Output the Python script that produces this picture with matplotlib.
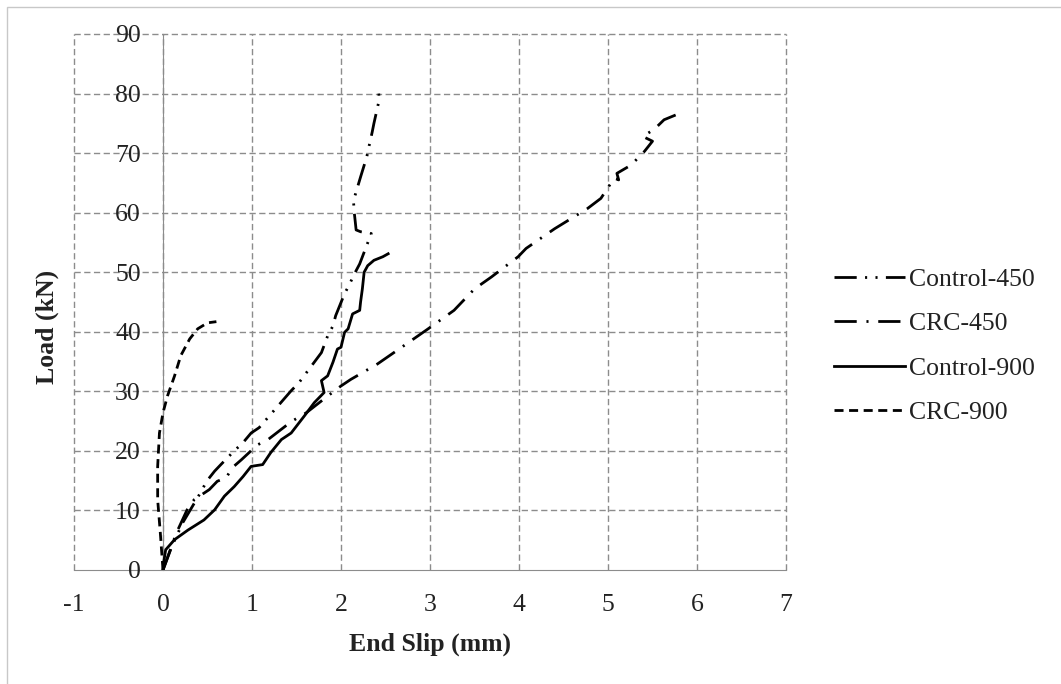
import numpy as np
import matplotlib
matplotlib.use('Agg')
import matplotlib.pyplot as plt
from matplotlib.patches import Rectangle

plt.rcParams['font.family'] = ['Liberation Serif', 'DejaVu Serif']
plt.rcParams['lines.scale_dashes'] = False

# load - slip data
ctrl450_x = [0, 0.1, 0.22, 0.43, 0.49, 0.58, 0.65, 0.8, 0.9, 0.99, 1.08, 1.44, 1.53, 1.78, 1.85, 1.91,
             1.94, 2.04, 2.09, 2.15, 2.21, 2.34, 2.22, 2.17, 2.15, 2.14, 2.18, 2.22, 2.29, 2.32, 2.35,
             2.37, 2.43, 2.42]
ctrl450_y = [0, 4, 7.9, 13.2, 14.9, 16.6, 17.7, 20, 21.4, 23, 23.9, 30.1, 31.5, 36.5, 39.3, 41,
             42.7, 46.4, 47.8, 49.7, 51.4, 56.5, 56.8, 57.1, 59.9, 62, 64, 66, 69.4, 71.5, 73.5,
             75, 79, 80.8]

crc450_x = [0, 0.15, 0.28, 0.35, 0.52, 0.61, 0.71, 0.78, 0.88, 1.06, 1.18, 1.44, 1.61, 1.85, 2.0,
            2.11, 2.41, 2.71, 2.97, 3.27, 3.5, 3.69, 3.99, 4.08, 4.4, 4.77, 4.92, 5.07, 5.12, 5.1,
            5.26, 5.41, 5.5, 5.39, 5.52, 5.63, 5.76]
crc450_y = [0, 6.2, 10.4, 11.8, 13.5, 14.9, 15.5, 17.2, 18.5, 21.0, 21.9, 24.9, 26.4, 29.2, 30.9,
            32.0, 34.6, 37.7, 40.4, 43.6, 47.2, 49.2, 52.6, 54.0, 57.3, 60.7, 62.4, 65.8, 65.5, 66.6,
            68.0, 70.3, 72.0, 72.8, 74.0, 75.6, 76.4]

ctrl900_x = [0, 0.01, 0.03, 0.13, 0.28, 0.46, 0.58, 0.69, 0.8, 0.9, 0.99, 1.12, 1.21, 1.33, 1.44,
             1.59, 1.7, 1.81, 1.78, 1.85, 1.91, 1.96, 2.0, 2.04, 2.08, 2.13, 2.21, 2.22, 2.24, 2.26,
             2.3, 2.37, 2.47, 2.53]
ctrl900_y = [0, 1.5, 3.4, 5.1, 6.7, 8.4, 10.1, 12.4, 14.0, 15.7, 17.4, 17.7, 19.7, 21.9, 23.0,
             25.9, 28.1, 29.8, 31.8, 32.6, 34.9, 37.1, 37.4, 39.9, 40.5, 43.0, 43.6, 45.0, 47.2, 50.0,
             51.1, 52.0, 52.6, 53.1]

crc900_x = [0, -0.03, -0.06, -0.06, -0.04, 0, 0.05, 0.13, 0.2, 0.3, 0.39, 0.5, 0.6]
crc900_y = [0, 6.2, 11.8, 17.4, 23, 26.4, 29.2, 32.6, 36, 38.8, 40.5, 41.5, 41.7]

xticks = np.arange(-1, 8, 1)
yticks = np.arange(0, 100, 10)

fig = plt.figure(figsize=(10.61, 6.84), dpi=100)
ax = fig.add_axes([74/1061, 1-570/684, 712/1061, 536/684])

# light frame around the picture
fig.patches.append(Rectangle((7/1061, -0.01), 1.02, 1-7/684+0.01, transform=fig.transFigure,
                             fill=False, edgecolor='#c8c8c8', lw=1))

lw = 2.0
ax.plot(ctrl450_x, ctrl450_y, color='black', lw=lw, dashes=(16, 6, 1.5, 6, 1.5, 6), label='Control-450')
ax.plot(crc450_x, crc450_y, color='black', lw=lw, dashes=(16, 7, 1.5, 7), label='CRC-450')
ax.plot(ctrl900_x, ctrl900_y, color='black', lw=lw, label='Control-900')
ax.plot(crc900_x, crc900_y, color='black', lw=lw, dashes=(6.5, 4), label='CRC-900')

ax.set_xlim(-1, 7)
ax.set_ylim(0, 90)
ax.set_xticks(xticks)
ax.set_yticks(yticks)
ax.set_xticklabels([str(t) for t in xticks])
ax.set_yticklabels([str(t) for t in yticks])

# dashed grid, also at the outer edges
for v in xticks:
    ax.axvline(v, color='#8c8c8c', lw=1, dashes=(4.5, 2.5), zorder=0, clip_on=False)
for v in yticks[1:]:
    ax.axhline(v, color='#8c8c8c', lw=1, dashes=(4.5, 2.5), zorder=0, clip_on=False)

for s in ['top', 'right']:
    ax.spines[s].set_visible(False)
ax.spines['left'].set_position(('data', 0))
ax.spines['left'].set_color('#8c8c8c')
ax.spines['bottom'].set_color('#8c8c8c')
ax.spines['left'].set_zorder(1)
ax.spines['bottom'].set_zorder(1)

ax.tick_params(axis='both', length=0, labelsize=18.5, labelcolor='#222222')
ax.tick_params(axis='x', pad=17)
ax.tick_params(axis='y', pad=16)

ax.set_xlabel('End Slip (mm)', fontsize=18.5, fontweight='bold', color='#222222', labelpad=12)
fig.text(47/1061, 1-327/684, 'Load (kN)', rotation=90, ha='center', va='center',
         fontsize=18.5, fontweight='bold', color='#222222')

fig.legend(loc='center left', bbox_to_anchor=(834/1061, 1-346/684), frameon=False,
           fontsize=18.5, handlelength=2.75, handletextpad=0.15, labelspacing=0.82,
           borderpad=0, borderaxespad=0, labelcolor='#222222')

plt.savefig('out.png', dpi=100)
